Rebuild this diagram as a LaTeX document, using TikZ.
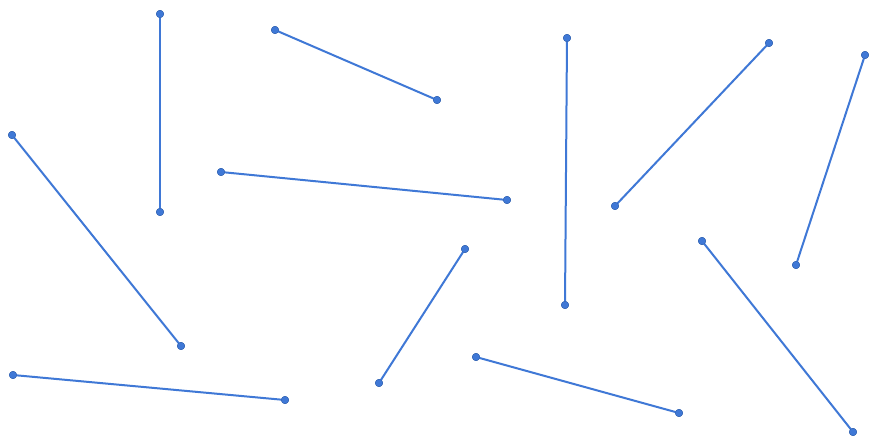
\documentclass[tikz,border=0pt]{standalone}
\definecolor{segblue}{HTML}{3F78D6}
\begin{document}
\begin{tikzpicture}[x=1pt,y=-1pt,
  pt/.style={circle,fill=segblue,draw=segblue!80!black,line width=0.3pt,inner sep=0pt,minimum size=7.5pt},
  seg/.style={draw=segblue,line width=2pt}]
\useasboundingbox (0,0) rectangle (870,438);
\fill[white] (0,0) rectangle (870,438);
\foreach \n/\ax/\ay/\bx/\by in {
  s1/160/14/160/212,
  s2/275/30/437/100,
  s3/12/135/181/346,
  s4/221/172/507/200,
  s5/567/38/565/305,
  s6/769/43/615/206,
  s7/865/55/796/265,
  s8/465/249/379/383,
  s9/702/241/853/432,
  s10/13/375/285/400,
  s11/476/357/679/413}{
  \node[pt] (\n a) at (\ax,\ay) {};
  \node[pt] (\n b) at (\bx,\by) {};
  \path[seg] (\n a.center) -- (\n b.center);
  \node[pt] at (\n a.center) {};
  \node[pt] at (\n b.center) {};
}
\end{tikzpicture}
\end{document}
